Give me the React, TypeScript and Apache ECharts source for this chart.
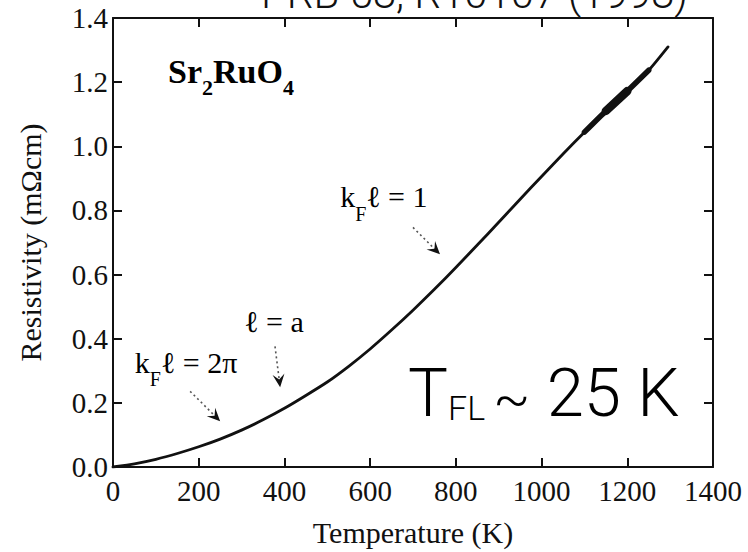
import React, { useEffect, useRef } from "react";
import * as echarts from "echarts";

// In-plane resistivity of Sr2RuO4 up to 1300 K
const temperatureK = [
  0, 50, 100, 150, 200, 250, 300, 350, 400, 450, 500, 550, 600, 650, 700, 750,
  800, 850, 900, 950, 1000, 1050, 1100, 1150, 1200, 1250, 1295,
];
const resistivity = [
  0.0, 0.01, 0.024, 0.042, 0.063, 0.087, 0.115, 0.147, 0.183, 0.223, 0.265,
  0.314, 0.368, 0.427, 0.489, 0.554, 0.622, 0.692, 0.763, 0.835, 0.906, 0.976,
  1.044, 1.11, 1.172, 1.237, 1.31,
];

// Temperature windows where the high-T data scatter into a broader band
const bandOuterRange = [1080, 1275];
const bandInnerRange = [1140, 1245];

const xTicks = [0, 200, 400, 600, 800, 1000, 1200, 1400];
const yTicks = [0, 0.2, 0.4, 0.6, 0.8, 1.0, 1.2, 1.4];

// Scattering-limit annotations: label anchor (left/baseline), arrow tail and head, in data units
const annotationLabels = ["{m|k}{s|F}{m|ℓ = 1}", "{m|ℓ = a}", "{m|k}{s|F}{m|ℓ = 2π}"];
const annotationAnchors = [
  [530, 0.812],
  [306, 0.423],
  [51, 0.296],
];
const arrowTails = [
  [700, 0.747],
  [378, 0.376],
  [180, 0.236],
];
const arrowHeads = [
  [763, 0.663],
  [390, 0.249],
  [250, 0.143],
];

const SERIF = "'Liberation Serif', 'DejaVu Serif', 'Times New Roman', serif";
const SANS = "Roboto, 'Liberation Sans', sans-serif";
const INK = "#111";

const points = temperatureK.map((t, i) => [t, resistivity[i]]);
const inRange = (r: number[]) => points.filter((p) => p[0] >= r[0] && p[0] <= r[1]);

export default function App() {
  const ref = useRef<HTMLDivElement>(null);

  useEffect(() => {
    if (!ref.current) return;
    const chart = echarts.init(ref.current, undefined, { renderer: "svg" });

    const axisLine = { show: true, onZero: false, lineStyle: { color: INK, width: 2 } };
    const axisTick = { show: true, inside: true, length: 9, lineStyle: { color: INK, width: 2 } };
    const tickLabel = { fontFamily: SERIF, fontSize: 29, color: INK };

    chart.setOption({
      animation: false,
      backgroundColor: "#fff",
      grid: { left: 113, right: 35, top: 18, bottom: 84, containLabel: false },
      xAxis: [
        {
          type: "value",
          position: "bottom",
          min: xTicks[0],
          max: xTicks[xTicks.length - 1],
          interval: xTicks[1] - xTicks[0],
          axisLine,
          axisTick,
          axisLabel: {
            ...tickLabel,
            margin: 9,
            showMinLabel: true,
            showMaxLabel: true,
            formatter: (v: number) => String(v),
          },
          splitLine: { show: false },
          name: "Temperature (K)",
          nameLocation: "middle",
          nameGap: 50,
          nameTextStyle: { fontFamily: SERIF, fontSize: 30, color: INK },
        },
        {
          type: "value",
          position: "top",
          min: xTicks[0],
          max: xTicks[xTicks.length - 1],
          interval: xTicks[1] - xTicks[0],
          axisLine,
          axisTick,
          axisLabel: { show: false },
          splitLine: { show: false },
        },
      ],
      yAxis: [
        {
          type: "value",
          position: "left",
          min: yTicks[0],
          max: yTicks[yTicks.length - 1],
          interval: 0.2,
          axisLine,
          axisTick,
          axisLabel: {
            ...tickLabel,
            margin: 5,
            showMinLabel: true,
            showMaxLabel: true,
            formatter: (v: number) => v.toFixed(1),
          },
          splitLine: { show: false },
          name: "Resistivity (mΩcm)",
          nameLocation: "middle",
          nameGap: 68,
          nameRotate: 90,
          nameTextStyle: { fontFamily: SERIF, fontSize: 30, color: INK },
        },
        {
          type: "value",
          position: "right",
          min: yTicks[0],
          max: yTicks[yTicks.length - 1],
          interval: 0.2,
          axisLine,
          axisTick,
          axisLabel: { show: false },
          splitLine: { show: false },
        },
      ],
      series: [
        {
          type: "line",
          data: points,
          smooth: 0.2,
          showSymbol: false,
          lineStyle: { color: INK, width: 2.8, cap: "round", join: "round" },
          z: 3,
        },
        {
          type: "line",
          data: inRange(bandOuterRange),
          smooth: 0.2,
          showSymbol: false,
          lineStyle: { color: INK, width: 5.5, cap: "round", join: "round" },
          z: 3,
        },
        {
          type: "line",
          data: inRange(bandInnerRange),
          smooth: 0.2,
          showSymbol: false,
          lineStyle: { color: INK, width: 8.5, cap: "round", join: "round" },
          z: 3,
        },
      ],
    });

    const px = (p: number[]) => chart.convertToPixel({ gridIndex: 0 }, p) as number[];

    const graphics: any[] = [];

    // Compound label
    const g0 = px([0, 0]);
    const g1 = px([1400, 1.4]);
    graphics.push({
      type: "text",
      x: g0[0] + 55,
      y: g1[1] + 36,
      style: {
        text: "{a|Sr}{b|2}{a|RuO}{b|4}",
        rich: {
          a: { fontFamily: SERIF, fontSize: 34, fontWeight: "bold", color: INK, lineHeight: 44, verticalAlign: "top" },
          b: { fontFamily: SERIF, fontSize: 22, fontWeight: "bold", color: INK, verticalAlign: "bottom" },
        },
      },
    });

    // Reference line at the top edge
    graphics.push({
      type: "text",
      x: 688,
      y: 14,
      style: {
        text: "PRB 58, R10107 (1998)",
        fontFamily: SANS,
        fontWeight: 300,
        fontSize: 42,
        fill: INK,
        align: "right",
        verticalAlign: "bottom",
      },
    });

    // Fermi-liquid temperature note
    graphics.push({
      type: "text",
      x: 408,
      y: 415 - 56,
      style: {
        text: "{b|T}{s|FL }{t|~}{b| 25 K}",
        rich: {
          b: { fontFamily: SANS, fontWeight: 300, fontSize: 67, lineHeight: 66, color: INK, verticalAlign: "top" },
          s: { fontFamily: SANS, fontWeight: 300, fontSize: 34, color: INK, verticalAlign: "bottom" },
          t: { fontFamily: SANS, fontWeight: 300, fontSize: 54, color: INK, verticalAlign: "bottom" },
        },
      },
    });

    // Annotations with dotted arrows
    annotationLabels.forEach((label, i) => {
      const a = px(annotationAnchors[i]);
      graphics.push({
        type: "text",
        x: a[0],
        y: a[1] - 25,
        style: {
          text: label,
          rich: {
            m: { fontFamily: SERIF, fontSize: 30, lineHeight: 42, color: INK, verticalAlign: "top" },
            s: { fontFamily: SERIF, fontSize: 20, color: INK, verticalAlign: "bottom" },
          },
        },
      });
      const t = px(arrowTails[i]);
      const h = px(arrowHeads[i]);
      const dx = h[0] - t[0];
      const dy = h[1] - t[1];
      const len = Math.hypot(dx, dy);
      const ux = dx / len;
      const uy = dy / len;
      const headLen = 13;
      const half = 6;
      const back = [h[0] - ux * headLen, h[1] - uy * headLen];
      const notch = [h[0] - ux * headLen * 0.6, h[1] - uy * headLen * 0.6];
      graphics.push({
        type: "line",
        shape: { x1: t[0], y1: t[1], x2: notch[0], y2: notch[1] },
        style: { stroke: "#555", lineWidth: 1.6, lineDash: [2, 3] },
      });
      graphics.push({
        type: "polygon",
        shape: {
          points: [
            h,
            [back[0] - uy * half, back[1] + ux * half],
            notch,
            [back[0] + uy * half, back[1] - ux * half],
          ],
        },
        style: { fill: INK },
      });
    });

    chart.setOption({ graphic: graphics });

    return () => chart.dispose();
  }, []);

  return (
    <div
      ref={ref}
      style={{ position: "absolute", left: 0, top: 0, width: 748, height: 552, background: "#fff" }}
    />
  );
}
